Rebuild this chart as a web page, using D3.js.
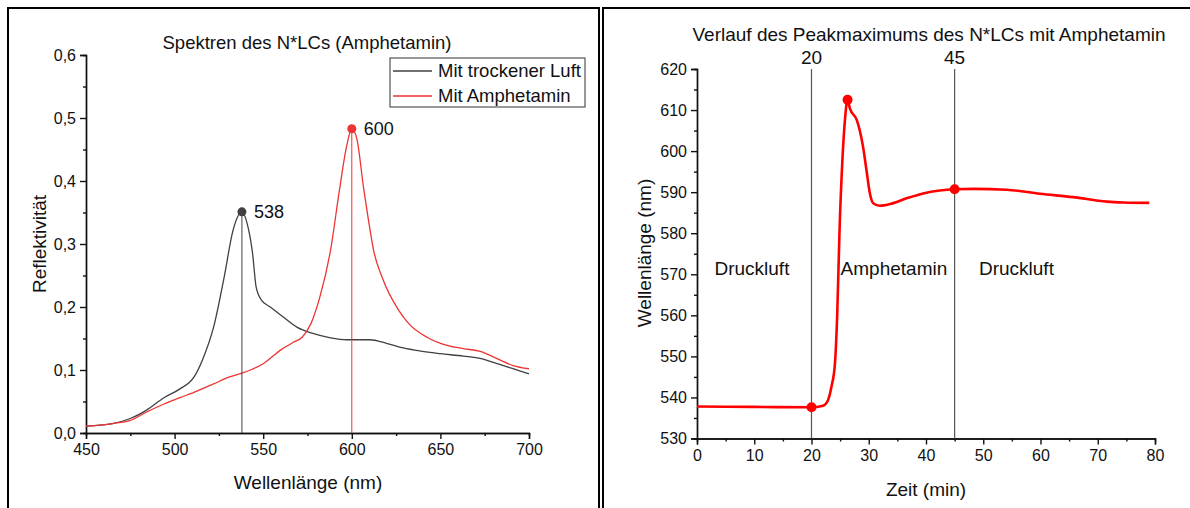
<!DOCTYPE html>
<html>
<head>
<meta charset="utf-8">
<script src="https://cdn.jsdelivr.net/npm/d3@7"></script>
<style>
  body { margin: 0; background: #fff; }
  text { font-family: "Liberation Sans", Arial, sans-serif; fill: #111; }
</style>
</head>
<body>
<svg id="chart" width="1190" height="508"></svg>
<script>
// Spektren (links)
const lambdaLuft = [450, 465, 475, 484, 494, 503, 511, 516, 522, 528, 533, 538, 541, 544, 546, 549, 554, 560, 569, 578, 588, 597, 610, 620, 629, 639, 650, 663, 673, 682, 691, 700];
const reflLuft   = [0.011, 0.015, 0.023, 0.036, 0.056, 0.070, 0.089, 0.118, 0.168, 0.248, 0.322, 0.351, 0.332, 0.285, 0.232, 0.211, 0.200, 0.187, 0.168, 0.158, 0.151, 0.148, 0.148, 0.142, 0.135, 0.130, 0.126, 0.122, 0.118, 0.110, 0.102, 0.094];
const lambdaAmph = [450, 465, 475, 484, 494, 503, 513, 522, 531, 541, 550, 560, 567, 572, 577, 582, 588, 593, 597, 600, 603, 606.6, 609.4, 612.3, 617, 626.4, 632, 642.4, 653.7, 663, 673, 682, 691, 700];
const reflAmph   = [0.011, 0.015, 0.020, 0.033, 0.046, 0.056, 0.067, 0.078, 0.089, 0.098, 0.110, 0.132, 0.144, 0.152, 0.174, 0.216, 0.290, 0.385, 0.454, 0.483, 0.465, 0.390, 0.338, 0.290, 0.248, 0.195, 0.174, 0.152, 0.139, 0.134, 0.129, 0.118, 0.107, 0.102];
const peaksLeft = [{x: 538, y: 0.351, label: "538", color: "#404040"}, {x: 600, y: 0.483, label: "600", color: "#ee3333"}];

// Peakverlauf (rechts)
const zeit  = [0, 10, 20, 22, 22.9, 23.5, 24.1, 24.5, 24.9, 25.4, 25.8, 26.3, 26.7, 27.9, 28.4, 29.0, 29.6, 30.2, 30.8, 31.9, 33.7, 36.6, 39.5, 42.4, 45, 48.3, 54.1, 59.9, 65.7, 71.6, 74.5, 79];
const peakNm = [537.8, 537.7, 537.6, 538.0, 539.4, 542.7, 548.3, 560.5, 580.8, 597.9, 606.8, 612.5, 610.4, 607.6, 605.2, 601.1, 595.4, 589.7, 587.3, 586.7, 587.1, 588.5, 589.7, 590.4, 590.7, 590.8, 590.6, 589.6, 588.8, 587.7, 587.5, 587.4];
const markTimes = [20, 45];
const phases = [{t: 9.6, text: "Druckluft"}, {t: 34.4, text: "Amphetamin"}, {t: 55.8, text: "Druckluft"}];

var svg = d3.select("#chart");

// Rahmen
svg.append("rect").attr("x", 8).attr("y", 8).attr("width", 591).attr("height", 520)
    .attr("fill", "none").attr("stroke", "#000").attr("stroke-width", 2);
svg.append("rect").attr("x", 603).attr("y", 8).attr("width", 620).attr("height", 520)
    .attr("fill", "none").attr("stroke", "#000").attr("stroke-width", 2);

function drawAxes(g, x, y, xMinor, yMinor, yFmt) {
    g.append("g").attr("transform", "translate(0," + y.range()[0] + ")")
        .call(d3.axisBottom(x).tickValues(xMinor).tickSize(3).tickFormat(""));
    g.append("g").attr("transform", "translate(" + x.range()[0] + ",0)")
        .call(d3.axisLeft(y).tickValues(yMinor).tickSize(3).tickFormat(""));
    g.append("g").attr("class", "ax").attr("transform", "translate(0," + y.range()[0] + ")")
        .call(d3.axisBottom(x).ticks(x.domain()[1] > 100 ? 5 : 8).tickSize(6).tickPadding(5));
    g.append("g").attr("class", "ax").attr("transform", "translate(" + x.range()[0] + ",0)")
        .call(d3.axisLeft(y).ticks(y.domain()[1] > 100 ? 9 : 6).tickFormat(yFmt).tickSize(6).tickPadding(4));
    g.selectAll(".domain, .tick line").attr("stroke", "#111").attr("stroke-width", 1.4);
    g.selectAll(".ax text").style("font-size", "16px").style("font-family", "Liberation Sans, Arial, sans-serif").attr("fill", "#111");
}

// linkes Diagramm
var x1 = d3.scaleLinear().domain([450, 700]).range([86, 529]);
var y1 = d3.scaleLinear().domain([0, 0.6]).range([433, 55]);
var left = svg.append("g");
drawAxes(left, x1, y1, d3.range(475, 700, 50), d3.range(0.05, 0.6, 0.1), function(d) { return d3.format(".1f")(d).replace(".", ","); });

var line1 = d3.line().curve(d3.curveMonotoneX)
    .x(function(d) { return x1(d[0]); })
    .y(function(d) { return y1(d[1]); });

left.append("path").datum(d3.zip(lambdaLuft, reflLuft)).attr("d", line1)
    .attr("fill", "none").attr("stroke", "#404040").attr("stroke-width", 1.3);
left.append("path").datum(d3.zip(lambdaAmph, reflAmph)).attr("d", line1)
    .attr("fill", "none").attr("stroke", "#ee3333").attr("stroke-width", 1.3);

left.selectAll(".drop").data(peaksLeft).enter().append("line")
    .attr("x1", function(d) { return x1(d.x); }).attr("x2", function(d) { return x1(d.x); })
    .attr("y1", function(d) { return y1(d.y); }).attr("y2", y1(0))
    .attr("stroke", function(d) { return d.color; }).attr("stroke-width", 1);
left.selectAll(".pk").data(peaksLeft).enter().append("circle")
    .attr("cx", function(d) { return x1(d.x); }).attr("cy", function(d) { return y1(d.y); })
    .attr("r", 4.5).attr("fill", function(d) { return d.color; });
left.selectAll(".pl").data(peaksLeft).enter().append("text")
    .attr("x", function(d) { return x1(d.x) + 12; }).attr("y", function(d) { return y1(d.y); })
    .attr("dy", "0.35em").style("font-size", "18px").text(function(d) { return d.label; });

left.append("text").attr("x", 307).attr("y", 49).attr("text-anchor", "middle")
    .style("font-size", "18.5px").text("Spektren des N*LCs (Amphetamin)");
left.append("text").attr("x", 308).attr("y", 489).attr("text-anchor", "middle")
    .style("font-size", "19px").text("Wellenlänge (nm)");
left.append("text").attr("transform", "translate(46,244) rotate(-90)").attr("text-anchor", "middle")
    .style("font-size", "19px").text("Reflektivität");

// Legende
var legend = left.append("g");
legend.append("rect").attr("x", 390).attr("y", 58).attr("width", 195).attr("height", 49)
    .attr("fill", "#fff").attr("stroke", "#333").attr("stroke-width", 1);
[["Mit trockener Luft", "#404040", 71], ["Mit Amphetamin", "#ee3333", 96]].forEach(function(e) {
    legend.append("line").attr("x1", 393).attr("x2", 432).attr("y1", e[2]).attr("y2", e[2])
        .attr("stroke", e[1]).attr("stroke-width", 1.3);
    legend.append("text").attr("x", 438).attr("y", e[2]).attr("dy", "0.35em")
        .style("font-size", "18.5px").text(e[0]);
});

// rechtes Diagramm
var x2 = d3.scaleLinear().domain([0, 80]).range([697, 1155]);
var y2 = d3.scaleLinear().domain([530, 620]).range([438.5, 69]);
var right = svg.append("g");
drawAxes(right, x2, y2, d3.range(5, 80, 10), d3.range(535, 620, 10), d3.format("d"));

right.selectAll(".mark").data(markTimes).enter().append("line")
    .attr("x1", function(d) { return x2(d); }).attr("x2", function(d) { return x2(d); })
    .attr("y1", y2(620)).attr("y2", y2(530))
    .attr("stroke", "#555").attr("stroke-width", 1.2);
right.selectAll(".markl").data(markTimes).enter().append("text")
    .attr("x", function(d) { return x2(d); }).attr("y", 64).attr("text-anchor", "middle")
    .style("font-size", "19px").text(function(d) { return d; });

right.selectAll(".phase").data(phases).enter().append("text")
    .attr("x", function(d) { return x2(d.t); }).attr("y", y2(571.5)).attr("dy", "0.35em")
    .attr("text-anchor", "middle").style("font-size", "19px").text(function(d) { return d.text; });

var line2 = d3.line().curve(d3.curveMonotoneX)
    .x(function(d) { return x2(d[0]); })
    .y(function(d) { return y2(d[1]); });
var series2 = d3.zip(zeit, peakNm);
right.append("path").datum(series2).attr("d", line2)
    .attr("fill", "none").attr("stroke", "#ff0000").attr("stroke-width", 2.6);

var dots2 = series2.filter(function(d) { return d[0] === 20 || d[0] === 45 || d[1] === d3.max(peakNm); });
right.selectAll(".dot").data(dots2).enter().append("circle")
    .attr("cx", function(d) { return x2(d[0]); }).attr("cy", function(d) { return y2(d[1]); })
    .attr("r", 5).attr("fill", "#ff0000");

right.append("text").attr("x", 929).attr("y", 41).attr("text-anchor", "middle")
    .style("font-size", "19px").text("Verlauf des Peakmaximums des N*LCs mit Amphetamin");
right.append("text").attr("x", 926).attr("y", 496).attr("text-anchor", "middle")
    .style("font-size", "19px").text("Zeit (min)");
right.append("text").attr("transform", "translate(651,253) rotate(-90)").attr("text-anchor", "middle")
    .style("font-size", "19px").text("Wellenlänge (nm)");
</script>
</body>
</html>
